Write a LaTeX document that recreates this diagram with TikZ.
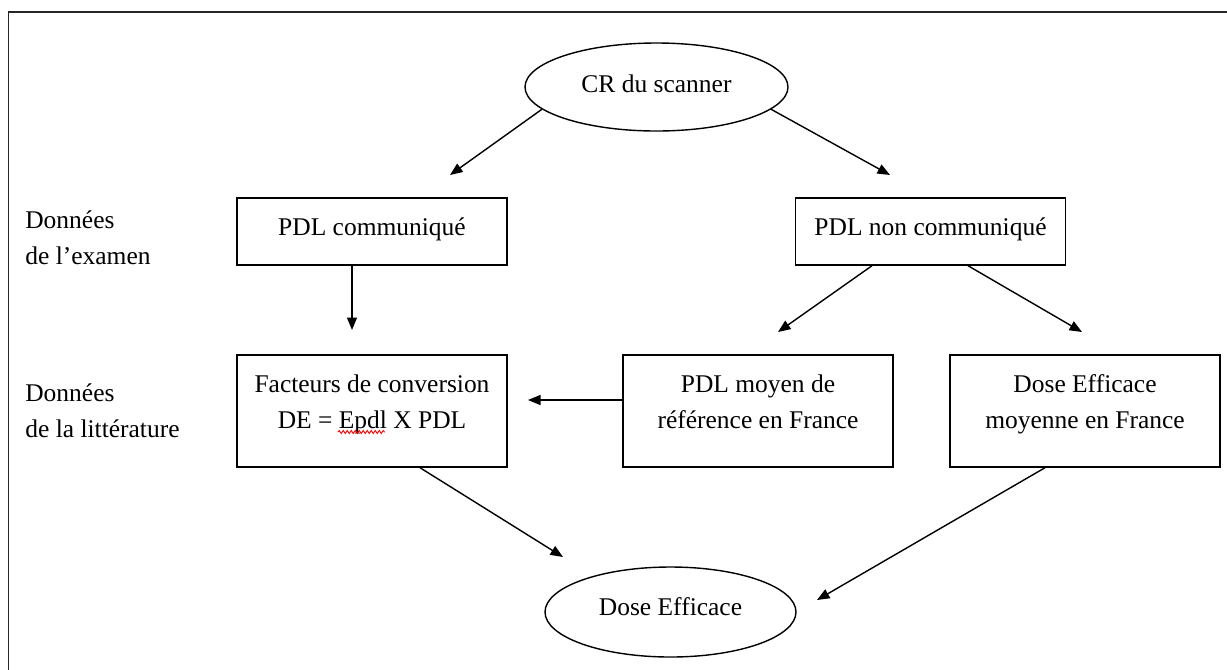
\documentclass[tikz,border=0pt]{standalone}
\usepackage{fontspec}
\setmainfont{Liberation Serif}
\usetikzlibrary{positioning}
\usetikzlibrary{arrows.meta,shapes}
\usetikzlibrary{calc}
\usetikzlibrary{decorations.pathmorphing}
\tikzstyle{examvertex}=[rectangle,draw,line width=0.8pt,minimum width=5.4cm,minimum height=1.34cm,text height=0.36cm,text depth=0.22cm,inner sep=0pt]
\tikzstyle{litvertex}=[rectangle,draw,line width=0.8pt,minimum width=5.4cm,minimum height=2.24cm,align=center,text height=1.08cm,text depth=0.4cm,inner sep=0pt]
\tikzstyle{ovalvertex}=[ellipse,draw,line width=0.8pt,inner sep=0pt,text height=0.36cm]
\tikzstyle{side} = [align=left,anchor=base west,inner sep=0pt]

\begin{document}
\begin{tikzpicture}[font=\fontsize{14.5}{20.3}\selectfont, >={Triangle[length=0.25cm,width=0.2cm]}]

   \useasboundingbox (0,0) rectangle (24.54,-13.38);
   \draw[line width=1pt, black!85] (0.17,-13.6) -- (0.17,-0.24) -- (24.8,-0.24);

   % ellipses
   \node[ovalvertex, minimum width=5.26cm, minimum height=1.76cm, text depth=0.15cm] (scan) at (13.13,-1.74) {CR du scanner};
   \node[ovalvertex, minimum width=5.02cm, minimum height=1.8cm, text depth=0.24cm] (dose) at (13.41,-12.24) {Dose Efficace};

   % examen
   \foreach \pos/\name/\txt in {{(7.44,-4.63)/comm/PDL communiqué}, {(18.61,-4.63)/noncomm/PDL non communiqué}}
        \node[examvertex] (\name) at \pos {\txt};

   % litterature
   \foreach \pos/\name/\txt in {{(7.44,-8.22)/fact/{Facteurs de conversion\\DE = Epdl X PDL}}, {(15.16,-8.22)/moyen/{PDL moyen de\\référence en France}}, {(21.7,-8.22)/efmoy/{Dose Efficace\\moyenne en France}}}
        \node[litvertex] (\name) at \pos {\txt};

   \node[side] (exam) at (0.5,-5.28) {Données\\de l’examen};
   \node[side] (lit) at (0.5,-8.74) {Données\\de la littérature};

   % arrow tips
   \coordinate (t1) at (9.0,-3.5);
   \coordinate (t2) at (17.8,-3.5);
   \coordinate (t3) at (7.04,-6.6);
   \coordinate (t4) at (15.56,-6.64);
   \coordinate (t5) at (21.64,-6.64);
   \coordinate (t6) at (10.56,-8.0);
   \coordinate (t7) at (11.26,-11.14);
   \coordinate (t8) at (16.34,-12.0);

   \draw[->, line width=0.8pt] (scan.191) -- (t1);
   \draw[->, line width=0.8pt] (scan.349) -- (t2);
   \draw[->, line width=0.8pt] (comm.south -| t3) -- (t3);
   \draw[->, line width=0.8pt] ([xshift=-1.17cm]noncomm.south) -- (t4);
   \draw[->, line width=0.8pt] ([xshift=0.75cm]noncomm.south) -- (t5);
   \draw[->, line width=0.8pt] (moyen.west |- t6) -- (t6);
   \draw[->, line width=0.8pt] ([xshift=0.96cm]fact.south) -- (t7);
   \draw[->, line width=0.8pt] ([xshift=-0.8cm]efmoy.south) -- (t8);

   \draw[red, line width=0.5pt, decorate, decoration={snake, amplitude=0.03cm, segment length=0.08cm}] ($(fact.center)+(-0.68,-0.42)$) -- ++(0.94,0);

\end{tikzpicture}
\end{document}
